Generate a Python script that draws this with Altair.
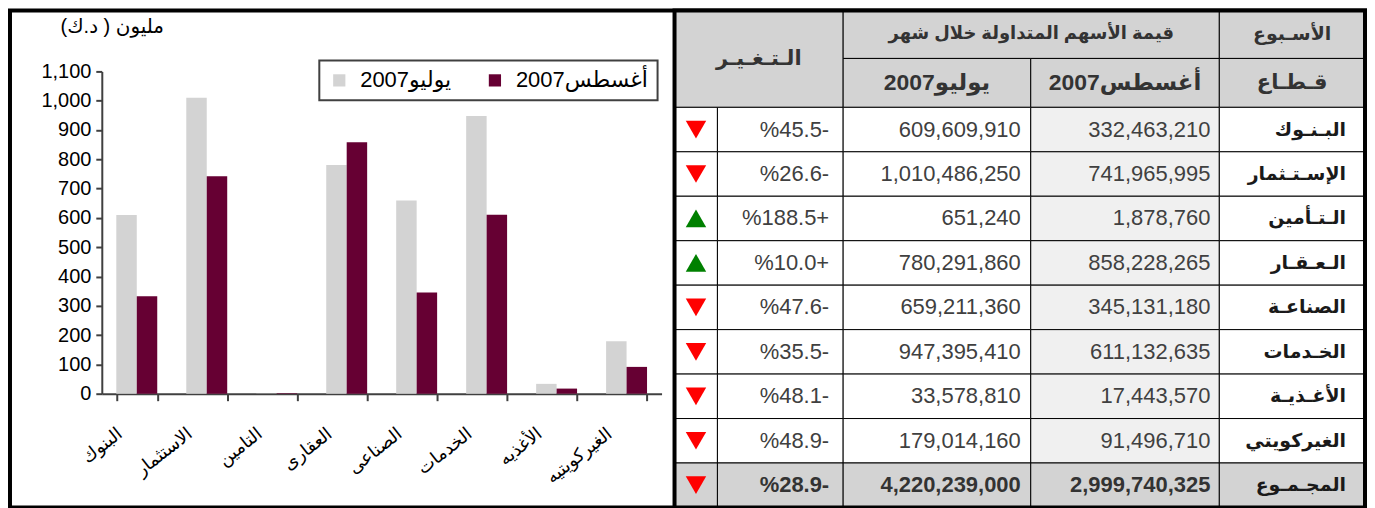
import altair as alt
import pandas as pd

# ---------------- data ----------------
chart_labels = ["البنوك", "الاستثمار", "التامين", "العقارى", "الصناعى", "الخدمات", "الأغذيه", "الغيركويتيه"]
table_sectors = ["البـنـوك", "الإسـتـثمار", "الـتـأمين", "الـعـقـار", "الصناعـة", "الخـدمات", "الأغـذيـة", "الغيركويتي"]
total_label = "المجـمـوع"
series_names = ["2007يوليو", "2007أغسطس"]
aug_2007 = [332463210, 741965995, 1878760, 858228265, 345131180, 611132635, 17443570, 91496710]
jul_2007 = [609609910, 1010486250, 651240, 780291860, 659211360, 947395410, 33578810, 179014160]
aug_total = 2999740325
jul_total = 4220239000
change_pct = ["%45.5-", "%26.6-", "%188.5+", "%10.0+", "%47.6-", "%35.5-", "%48.1-", "%48.9-"]
change_total = "%28.9-"
y_ticks = [0, 100, 200, 300, 400, 500, 600, 700, 800, 900, 1000, 1100]
y_title = "مليون ( د.ك)\u200f"
hdr_change = "الـتـغـيـر"
hdr_value = "قيمة الأسهم المتداولة خلال شهر"
hdr_week = "الأسـبوع"
hdr_sector = "قـطـاع"

FONT = "Liberation Sans, Arial, DejaVu Sans"

# ---------------- layout ----------------
LW = 666            # width of the chart box
TW = 692            # width of the table box
H = 498             # height of both boxes
W = LW + TW
AX_X0, AX_X1 = 92, 653
AX_Y0, AX_Y1 = 384, 61

# ---------------- bar chart ----------------
bar_rows = []
for i, lab in enumerate(chart_labels):
    bar_rows.append({"sector": lab, "series": series_names[0], "value": jul_2007[i] / 1e6})
    bar_rows.append({"sector": lab, "series": series_names[1], "value": aug_2007[i] / 1e6})
bar_df = pd.DataFrame(bar_rows)

bars = alt.Chart(bar_df).mark_bar().encode(
    x=alt.X(
        "sector:N",
        sort=chart_labels,
        scale=alt.Scale(range=[AX_X0, AX_X1], paddingInner=0.415, paddingOuter=0.2075),
        axis=alt.Axis(
            title=None, offset=-(H - AX_Y0), tickBand="extent",
            labelAngle=-38, labelAlign="right", labelBaseline="middle",
            labelPadding=31, labelOffset=-17, labelFontSize=18, labelColor="black",
            domainColor="#404040", domainWidth=2, tickColor="#404040", tickWidth=2, tickSize=7,
        ),
    ),
    xOffset=alt.XOffset("series:N", sort=series_names),
    y=alt.Y(
        "value:Q",
        scale=alt.Scale(domain=[0, 1100], range=[AX_Y0, AX_Y1], nice=False),
        axis=alt.Axis(
            values=y_ticks, format=",d", offset=-AX_X0, grid=False,
            labelFontSize=20, labelColor="black", labelPadding=5,
            domainColor="#404040", domainWidth=2, tickColor="#404040", tickWidth=2, tickSize=6,
            title=y_title, titleAngle=0, titleX=10, titleY=16, titleAlign="center",
            titleBaseline="middle", titleFontSize=20, titleFontWeight="normal", titleColor="black",
        ),
    ),
    color=alt.Color(
        "series:N",
        sort=series_names,
        scale=alt.Scale(domain=series_names, range=["#d3d3d3", "#660033"]),
        legend=alt.Legend(
            title=None, orient="none", legendX=310, legendY=50, direction="horizontal",
            fillColor="white", strokeColor="#404040", padding=9,
            symbolType="square", symbolSize=150, symbolStrokeWidth=0,
            labelFontSize=22, labelColor="black", columnPadding=32, labelOffset=10,
        ),
    ),
)

# ---------------- table ----------------
col_w = [43, 126, 188, 189, 146]
hdr_h = [48, 49]
n_rows = len(table_sectors) + 1
row_h = (H - sum(hdr_h)) / n_rows
ce = [0]
for w in col_w:
    ce.append(ce[-1] + w)

GRAY = "#d3d3d3"
LIGHT = "#f0f0f0"
cells = []


def cell(x0, x1, y0, y1, fill, text="", tx=None, align="center", weight="normal", color="#333333", size=20):
    cells.append({
        "x": x0, "x2": x1, "y": y0, "y2": y1, "fill": fill, "text": text,
        "tx": tx if tx is not None else (x0 + x1) / 2, "ty": (y0 + y1) / 2,
        "align": align, "weight": weight, "color": color, "size": size,
    })


h1, h2 = hdr_h[0], hdr_h[0] + hdr_h[1]
cell(ce[0], ce[2], 0, h2, GRAY, hdr_change, weight="bold", size=21)
cell(ce[2], ce[4], 0, h1, GRAY, hdr_value, weight="bold", size=18)
cell(ce[4], ce[5], 0, h1, GRAY, hdr_week, weight="bold", size=19)
cell(ce[2], ce[3], h1, h2, GRAY, series_names[0], weight="bold", size=23)
cell(ce[3], ce[4], h1, h2, GRAY, series_names[1], weight="bold", size=23)
cell(ce[4], ce[5], h1, h2, GRAY, hdr_sector, weight="bold", size=21)

arrows = []
rows = [(table_sectors[i], jul_2007[i], aug_2007[i], change_pct[i], False) for i in range(len(table_sectors))]
rows.append((total_label, jul_total, aug_total, change_total, True))
for i, (name, jv, av, ch, is_total) in enumerate(rows):
    y0 = h2 + i * row_h
    y1 = y0 + row_h
    w = "bold" if is_total else "normal"
    c = "#333333" if is_total else "#404040"
    f_plain = GRAY if is_total else "white"
    f_aug = GRAY if is_total else LIGHT
    cell(ce[0], ce[1], y0, y1, f_plain)
    cell(ce[1], ce[2], y0, y1, f_plain, ch, tx=ce[2] - 14, align="right", weight=w, color=c, size=22)
    cell(ce[2], ce[3], y0, y1, f_plain, f"{jv:,}", tx=ce[3] - 10, align="right", weight=w, color=c, size=22)
    cell(ce[3], ce[4], y0, y1, f_aug, f"{av:,}", tx=ce[4] - 9, align="right", weight=w, color=c, size=22)
    cell(ce[4], ce[5], y0, y1, f_plain, name, tx=ce[5] - 19, align="right", weight="bold", color="#1a1a1a", size=19)
    up = ch.endswith("+")
    arrows.append({"x": (ce[0] + ce[1]) / 2, "y": (y0 + y1) / 2,
                   "shape": "triangle-up" if up else "triangle-down",
                   "color": "#008000" if up else "#ff0000"})

cell_df = pd.DataFrame(cells)
arrow_df = pd.DataFrame(arrows)
frame_df = pd.DataFrame([{"x": 0, "x2": TW, "y": 0, "y2": H}])

xs = alt.Scale(domain=[0, TW], range=[LW, W], nice=False, zero=False)
ys = alt.Scale(domain=[0, H], range=[0, H], nice=False, zero=False)

rects = alt.Chart(cell_df).mark_rect(stroke="black", strokeWidth=1).encode(
    x=alt.X("x:Q", scale=xs, axis=None),
    x2="x2:Q",
    y=alt.Y("y:Q", scale=ys, axis=None),
    y2="y2:Q",
    fill=alt.Fill("fill:N", scale=None),
)

text_layers = []
for al in ["center", "right"]:
    for wt in ["normal", "bold"]:
        text_layers.append(
            alt.Chart(cell_df).transform_filter(
                (alt.datum.align == al) & (alt.datum.weight == wt) & (alt.datum.text != "")
            ).mark_text(align=al, baseline="middle", fontWeight=wt, font=FONT).encode(
                x=alt.X("tx:Q", scale=xs, axis=None),
                y=alt.Y("ty:Q", scale=ys, axis=None),
                text="text:N",
                color=alt.Color("color:N", scale=None),
                size=alt.Size("size:Q", scale=None),
            )
        )

tri = alt.Chart(arrow_df).mark_point(filled=True, size=420, opacity=1).encode(
    x=alt.X("x:Q", scale=xs, axis=None),
    y=alt.Y("y:Q", scale=ys, axis=None),
    shape=alt.Shape("shape:N", scale=None),
    color=alt.Color("color:N", scale=None),
)

frame = alt.Chart(frame_df).mark_rect(fill=None, stroke="black", strokeWidth=4).encode(
    x=alt.X("x:Q", scale=xs, axis=None),
    x2="x2:Q",
    y=alt.Y("y:Q", scale=ys, axis=None),
    y2="y2:Q",
)

table = alt.layer(rects, *text_layers, tri, frame)

chart = alt.layer(bars, table).resolve_scale(
    x="independent", y="independent", color="independent"
).properties(
    width=W, height=H,
    autosize=alt.AutoSizeParams(type="none"),
    padding={"left": 2, "top": 2, "right": 2, "bottom": 0},
    background="white",
).configure(font=FONT).configure_view(stroke="black", strokeWidth=4).configure_axis(
    grid=False
).configure_legend(strokeWidth=2)

chart.save("out.html", embed_options={"renderer": "svg", "actions": False})
